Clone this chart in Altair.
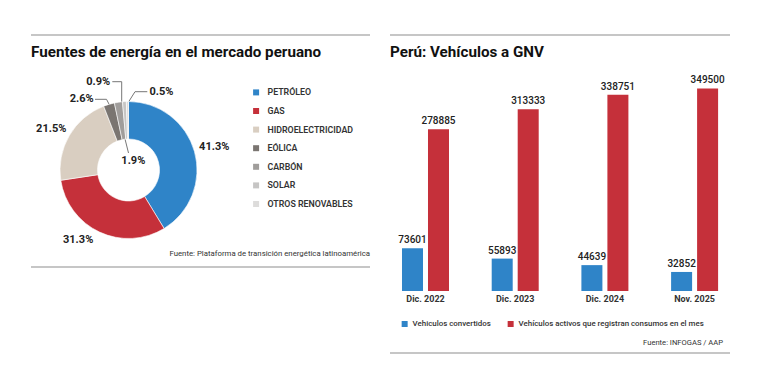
import math
import altair as alt
import pandas as pd

# ---------------- data ----------------
fuentes = ["PETRÓLEO", "GAS", "HIDROELECTRICIDAD", "EÓLICA", "CARBÓN", "SOLAR", "OTROS RENOVABLES"]
porcentajes = [41.3, 31.3, 21.5, 2.6, 1.9, 0.9, 0.5]
colores_fuentes = ["#2f84c8", "#c5303a", "#d9cec1", "#7a7571", "#a09d9b", "#c6c5c4", "#dddcdb"]

periodos = ["Dic. 2022", "Dic. 2023", "Dic. 2024", "Nov. 2025"]
convertidos = [73601, 55893, 44639, 32852]
activos = [278885, 313333, 338751, 349500]
series = ["Vehiculos convertidos", "Vehículos activos que registran consumos en el mes"]
colores_series = ["#2f84c8", "#c5303a"]

df_e = pd.DataFrame({
    "fuente": fuentes,
    "pct": porcentajes,
    "orden": list(range(len(fuentes))),
    "etiqueta": [f"{p}%" for p in porcentajes],
})
rows = []
for p, c, a in zip(periodos, convertidos, activos):
    rows.append({"periodo": p, "serie": series[0], "valor": c})
    rows.append({"periodo": p, "serie": series[1], "valor": a})
df_b = pd.DataFrame(rows)
df_p = pd.DataFrame({"periodo": periodos})
dummy = pd.DataFrame({"k": [0]})

FONT = "Roboto"
CX, CY = 120.5, 162

# ---------------- donut ----------------
base = (
    alt.Chart(df_e)
    .transform_window(fin="sum(pct)", sort=[alt.SortField("orden")], frame=[None, 0])
    .transform_calculate(inicio="datum.fin - datum.pct")
    .transform_calculate(medio="(datum.inicio + datum.fin) / 2")
)
theta_scale = alt.Scale(domain=[0, 100], range=[0, 2 * math.pi])

arc = base.mark_arc(innerRadius=31, outerRadius=68.5, stroke="white", strokeWidth=0.6).encode(
    theta=alt.Theta("inicio:Q", scale=theta_scale, stack=False),
    theta2="fin:Q",
    color=alt.Color(
        "fuente:N",
        sort=fuentes,
        scale=alt.Scale(domain=fuentes, range=colores_fuentes),
        legend=alt.Legend(
            title=None, orient="none", legendX=243.7, legendY=80, direction="vertical",
            symbolType="square", symbolSize=36, symbolStrokeWidth=0,
            labelFont=FONT, labelFontSize=8.8, labelFontWeight=600, labelColor="#333",
            rowPadding=8.6, labelOffset=7, padding=0,
        ),
    ),
    x=alt.value(CX),
    y=alt.value(CY),
)


def etiqueta(fuente, radio, dx, dy):
    return base.transform_filter(alt.datum.fuente == fuente).mark_text(
        radius=radio, dx=dx, dy=dy, font=FONT, fontSize=11, fontWeight="bold", color="#222",
        baseline="middle", align="center",
    ).encode(
        theta=alt.Theta("medio:Q", scale=theta_scale, stack=False),
        text="etiqueta:N",
        x=alt.value(CX),
        y=alt.value(CY),
    )


labels_donut = [
    etiqueta("PETRÓLEO", 89, 0, 1),
    etiqueta("GAS", 86, -14, -8),
    etiqueta("HIDROELECTRICIDAD", 87, -2, 2.5),
    etiqueta("EÓLICA", 75, -25.4, 1.2),
    etiqueta("SOLAR", 75, -25.8, -13.4),
    etiqueta("OTROS RENOVABLES", 75, 34.2, -3.3),
    etiqueta("CARBÓN", 10, 6.3, 0.6),
]


def seg(x1, y1, x2, y2, color="#777", w=1):
    return alt.Chart(dummy).mark_rule(color=color, strokeWidth=w).encode(
        x=alt.value(x1), y=alt.value(y1), x2=alt.value(x2), y2=alt.value(y2)
    )


leaders = [
    seg(104.3, 73.7, 113.7, 73.7), seg(113.7, 73.7, 113.7, 95),
    seg(87, 91.3, 98.5, 91.3), seg(98.5, 91.3, 102, 98),
    seg(139.3, 83.7, 127, 83.7), seg(127, 83.7, 120.5, 94),
    seg(117, 131, 120.5, 145),
]

# ---------------- bars ----------------
x_enc = alt.X(
    "periodo:N", sort=periodos, axis=None,
    scale=alt.Scale(domain=periodos, range=[372.65, 731.45], paddingInner=0, paddingOuter=0),
)
xo_enc = alt.XOffset(
    "serie:N", sort=series,
    scale=alt.Scale(domain=series, paddingInner=0.192, paddingOuter=0.821),
)
y_enc = alt.Y("valor:Q", axis=None, scale=alt.Scale(nice=False, zero=True, range=[283, 80.4]))

bars = alt.Chart(df_b).mark_bar().encode(
    x=x_enc, xOffset=xo_enc, y=y_enc,
    fill=alt.Fill(
        "serie:N", sort=series,
        scale=alt.Scale(domain=series, range=colores_series),
        legend=alt.Legend(
            title=None, orient="none", legendX=392.7, legendY=312, direction="horizontal",
            symbolType="square", symbolSize=36, symbolStrokeWidth=0,
            labelFont=FONT, labelFontSize=7.9, labelFontWeight=500, labelColor="#333",
            columnPadding=15, labelOffset=4, padding=0, labelLimit=400,
        ),
    ),
)
bar_text = alt.Chart(df_b).mark_text(
    dy=-3, baseline="bottom", font=FONT, fontSize=10, fontWeight=500, color="#222"
).encode(x=x_enc, xOffset=xo_enc, y=y_enc, text=alt.Text("valor:Q", format="d"))

cat_text = alt.Chart(df_p).mark_text(
    font=FONT, fontSize=9, fontWeight="bold", color="#333", baseline="middle"
).encode(x=x_enc, y=alt.value(291.3), text="periodo:N")

# ---------------- decorations ----------------
def texto(t, x, y, size, weight="normal", align="left", color="#222", baseline="alphabetic"):
    return alt.Chart(dummy).mark_text(
        text=t, fontSize=size, fontWeight=weight, align=align, color=color, font=FONT, baseline=baseline
    ).encode(x=alt.value(x), y=alt.value(y))


deco = [
    seg(23, 27, 362, 27, "#b3b3b3", 1.5),
    seg(23, 259, 362, 259, "#b3b3b3", 1.5),
    seg(382, 27, 722, 27, "#b3b3b3", 1.5),
    seg(382, 345, 722, 345, "#b3b3b3", 1.5),
    texto("Fuentes de energía en el mercado peruano", 23, 48.5, 15.2, "bold", color="#111"),
    texto("Perú: Vehículos a GNV", 382, 48.5, 15.2, "bold", color="#111"),
    texto("Fuente: Plataforma de transición energética latinoamérica", 362, 246, 7.8, "normal",
          align="right", color="#333", baseline="middle"),
    texto("Fuente:  INFOGAS / AAP", 715, 334.7, 7.6, "normal", align="right", color="#333", baseline="middle"),
]

chart = alt.layer(
    *deco, *leaders, arc, *labels_donut, bars, bar_text, cat_text
).properties(
    width=744, height=373, padding=0, autosize=alt.AutoSizeParams(type="none"), background="white"
).configure_view(stroke=None)

chart.save("out.html", embed_options={"renderer": "svg", "actions": False})
